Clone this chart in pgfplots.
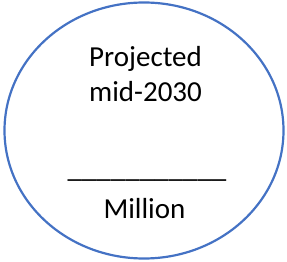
\documentclass[border=0pt]{standalone}
\usepackage{pgfplots}
\pgfplotsset{compat=1.18}
\usepackage{fontspec}
\setmainfont{Carlito}
\definecolor{ringblue}{HTML}{4472C4}
\begin{document}
\begin{tikzpicture}
\begin{axis}[
  width=287bp, height=262bp, scale only axis,
  xmin=0, xmax=287, ymin=0, ymax=262,
  hide axis, clip=false,
]
\path (axis cs:0,0) rectangle (axis cs:287,262);
\draw[ringblue, line width=2.2bp] (axis cs:144,131.5) ellipse [x radius=139.5, y radius=128];
\node[anchor=base, font=\fontsize{29bp}{34bp}\selectfont] at (axis cs:145.5,195) {Projected};
\node[anchor=base, font=\fontsize{29bp}{34bp}\selectfont] at (axis cs:145.5,160) {mid-2030};
\node[anchor=base, font=\fontsize{29bp}{34bp}\selectfont] at (axis cs:147,84) {\_\_\_\_\_\_\_\_\_\_\_};
\node[anchor=base, font=\fontsize{29bp}{34bp}\selectfont] at (axis cs:144.5,43) {Million};
\end{axis}
\end{tikzpicture}
\end{document}
